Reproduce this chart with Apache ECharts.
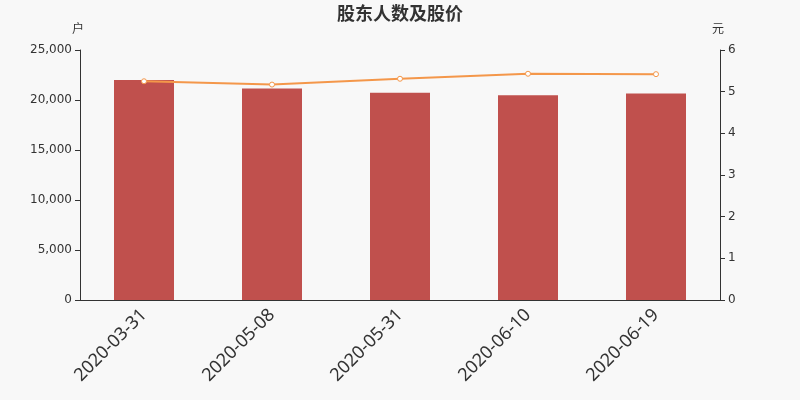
<!DOCTYPE html>
<html><head><meta charset="utf-8">
<script src="https://cdn.jsdelivr.net/npm/echarts@6/dist/echarts.min.js"></script>
<style>html,body{margin:0;padding:0;background:#f8f8f8;}#c{width:800px;height:400px;}</style>
</head><body><div id="c"></div>
<script>
var categories = ['2020-03-31','2020-05-08','2020-05-31','2020-06-10','2020-06-19'];
var holders = [22000, 21150, 20720, 20480, 20650];
var prices = [5.25, 5.17, 5.31, 5.43, 5.42];
var chart = echarts.init(document.getElementById('c'));
var font = '"DejaVu Sans", "Noto Sans CJK SC", sans-serif';
chart.setOption({
  backgroundColor: '#f8f8f8',
  textStyle: {fontFamily: font},
  title: {text: '股东人数及股价', left: 'center', top: -1, textStyle: {fontSize: 18, fontWeight: 'bold', color: '#333', fontFamily: '"Noto Sans CJK SC", sans-serif'}},
  grid: {left: 80, right: 80, top: 50, bottom: 100},
  xAxis: {type: 'category', data: categories,
    axisLine: {lineStyle: {color: '#333'}},
    axisTick: {alignWithLabel: false, lineStyle: {color: '#333'}},
    axisLabel: {rotate: 45, fontSize: 18, color: '#333', margin: 12, fontFamily: '"Noto Sans", sans-serif'}},
  yAxis: [
    {type: 'value', name: '户', min: 0, max: 25000, interval: 5000,
     nameTextStyle: {color: '#333', fontSize: 12, align: 'center', padding: [0, 4, 0, 0]}, nameGap: 14,
     axisLine: {show: true, lineStyle: {color: '#333'}}, axisTick: {show: true},
     splitLine: {show: false}, axisLabel: {color: '#333', fontSize: 12}},
    {type: 'value', name: '元', min: 0, max: 6, interval: 1,
     nameTextStyle: {color: '#333', fontSize: 12, align: 'center', padding: [0, 4, 0, 0]}, nameGap: 14,
     axisLine: {show: true, lineStyle: {color: '#333'}}, axisTick: {show: true},
     splitLine: {show: false}, axisLabel: {color: '#333', fontSize: 12}}
  ],
  series: [
    {type: 'bar', data: holders, barWidth: 60, itemStyle: {color: '#c0504d'}},
    {type: 'line', yAxisIndex: 1, data: prices, symbol: 'circle', symbolSize: 5,
     lineStyle: {color: '#f4974a', width: 2},
     itemStyle: {color: '#fff', borderColor: '#f4974a', borderWidth: 1}}
  ]
});
</script></body></html>
